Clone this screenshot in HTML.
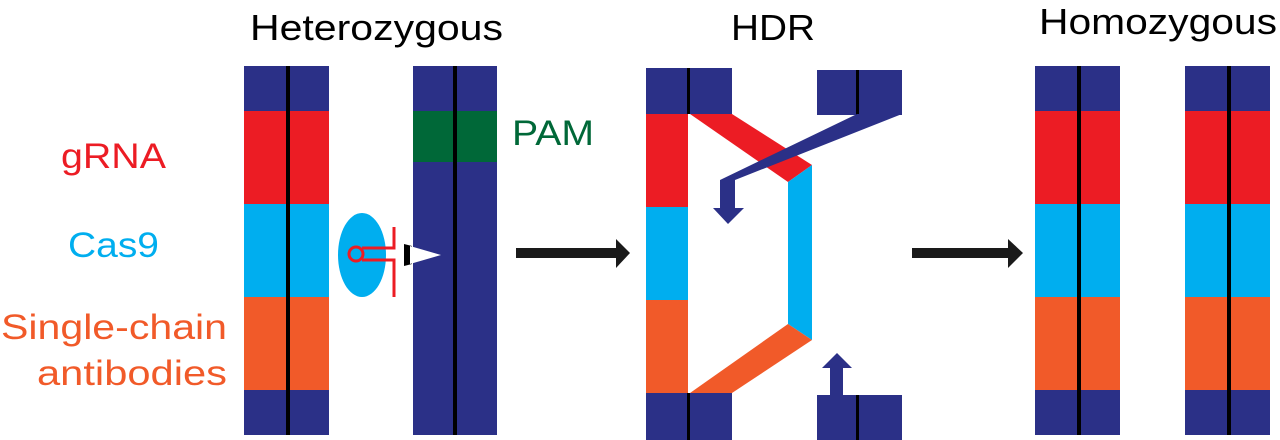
<!DOCTYPE html>
<html><head><meta charset="utf-8"><style>
html,body{margin:0;padding:0;background:#fff;width:1280px;height:440px;overflow:hidden}
svg text{font-family:"Liberation Sans",sans-serif}
</style></head><body>
<svg width="1280" height="440" viewBox="0 0 1280 440" xmlns="http://www.w3.org/2000/svg">
<defs>
<g id="chrom">
<rect x="0" y="0" width="85" height="45" fill="#2b3087"/>
<rect x="0" y="45" width="85" height="93" fill="#ec1c24"/>
<rect x="0" y="138" width="85" height="93" fill="#00aeef"/>
<rect x="0" y="231" width="85" height="93" fill="#f15a29"/>
<rect x="0" y="324" width="85" height="45" fill="#2b3087"/>
<rect x="42" y="0" width="4" height="369" fill="#000"/>
</g>
</defs>
<text x="250" y="40" font-size="36" textLength="253" lengthAdjust="spacingAndGlyphs">Heterozygous</text>
<text x="731" y="40" font-size="36" textLength="84" lengthAdjust="spacingAndGlyphs">HDR</text>
<text x="1039" y="34" font-size="36" textLength="238" lengthAdjust="spacingAndGlyphs">Homozygous</text>
<text x="61" y="168" font-size="35" fill="#ec1c24" textLength="105" lengthAdjust="spacingAndGlyphs">gRNA</text>
<text x="68" y="257" font-size="35" fill="#00aeef" textLength="91" lengthAdjust="spacingAndGlyphs">Cas9</text>
<text x="1" y="339" font-size="35" fill="#f15a29" textLength="226" lengthAdjust="spacingAndGlyphs">Single-chain</text>
<text x="37" y="385" font-size="35" fill="#f15a29" textLength="190" lengthAdjust="spacingAndGlyphs">antibodies</text>
<text x="512" y="145" font-size="35" fill="#006838" textLength="82" lengthAdjust="spacingAndGlyphs">PAM</text>

<use href="#chrom" x="244" y="66"/>
<rect x="413" y="66" width="84" height="369" fill="#2b3087"/>
<rect x="413" y="111" width="84" height="51" fill="#006838"/>
<rect x="453" y="66" width="4" height="369" fill="#000"/>

<ellipse cx="362" cy="255" rx="24" ry="42" fill="#00aeef"/>
<circle cx="356" cy="254" r="7" fill="none" stroke="#ec1c24" stroke-width="3"/>
<path d="M362 248 H394 V227 M362 260 H394 V297" fill="none" stroke="#ec1c24" stroke-width="3"/>
<polygon points="404,244 412,246 412,264 404,266" fill="#000"/>
<polygon points="410,246 441,255 410,264" fill="#fff"/>

<rect x="516" y="248" width="102" height="10" fill="#1a1a1a"/>
<polygon points="616,239 630,253 616,268" fill="#1a1a1a"/>
<rect x="912" y="248" width="100" height="10" fill="#1a1a1a"/>
<polygon points="1008,239 1023,253 1008,268" fill="#1a1a1a"/>

<rect x="646" y="68" width="86" height="46" fill="#2b3087"/>
<rect x="646" y="114" width="42" height="93" fill="#ec1c24"/>
<rect x="646" y="207" width="42" height="93" fill="#00aeef"/>
<rect x="646" y="300" width="42" height="93" fill="#f15a29"/>
<rect x="646" y="393" width="86" height="47" fill="#2b3087"/>
<rect x="687" y="68" width="3" height="46" fill="#000"/>
<rect x="687" y="393" width="3" height="47" fill="#000"/>
<polygon points="690,114 732,114 812,165 788,182" fill="#ec1c24"/>
<polygon points="788,182 812,165 812,340 788,324" fill="#00aeef"/>
<polygon points="788,324 812,340 732,393 690,393" fill="#f15a29"/>
<rect x="817" y="70" width="85" height="45" fill="#2b3087"/>
<rect x="856" y="70" width="3" height="45" fill="#000"/>
<polygon points="857,114 902,114 735,180 735,208 744,208 728,224 713,208 720,208 720,180" fill="#2b3087"/>
<rect x="817" y="395" width="85" height="45" fill="#2b3087"/>
<rect x="856" y="395" width="3" height="45" fill="#000"/>
<polygon points="830,395 843,395 843,368 852,368 837,353 822,368 830,368" fill="#2b3087"/>

<use href="#chrom" x="1035" y="66"/>
<use href="#chrom" x="1185" y="66"/>
</svg>
</body></html>
